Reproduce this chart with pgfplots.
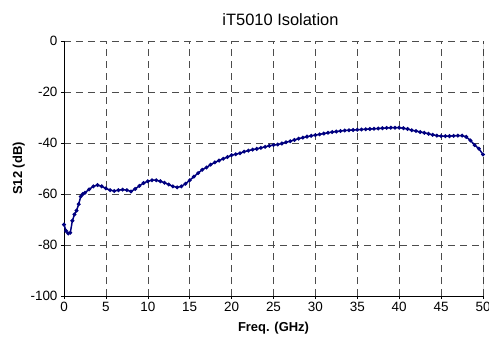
\documentclass[border=0pt]{standalone}
\usepackage{pgfplots}
\pgfplotsset{compat=1.18}
\usepackage{fontspec}
\setmainfont{Liberation Sans}
\definecolor{navy}{RGB}{0,0,128}
\begin{document}
\begin{tikzpicture}
\begin{axis}[
  scale only axis,
  width=419bp, height=255bp,
  xmin=0, xmax=50, ymin=-100, ymax=0,
  xtick={0,5,...,50}, ytick={-100,-80,...,0},
  axis x line*=bottom, axis y line*=left,
  axis line style={black, line width=0.8pt, -},
  tick align=outside, major tick length=3bp,
  tick style={black, line width=0.6pt},
  grid=major,
  major grid style={black!70, dash pattern=on 7bp off 5bp, line width=0.6pt},
  /pgf/number format/assume math mode=true,
  ticklabel style={font=\fontsize{13.5}{16}\selectfont},
  xlabel={\bfseries Freq. (GHz)},
  ylabel={\bfseries S12 (dB)},
  label style={font=\fontsize{13}{15}\selectfont\bfseries},
  xlabel style={yshift=-3bp},
  ylabel style={yshift=-1bp},
  title={iT5010 Isolation},
  title style={font=\fontsize{16.5}{19}\selectfont, xshift=7bp, yshift=6bp},
]
\addplot[navy, line width=1.5pt, mark=*, mark size=1.1bp] coordinates {
(0,-72) (0.25,-74.5) (0.5,-75.5) (0.75,-75.2) (1.0,-70.5) (1.25,-68) (1.5,-66.5) (1.75,-64)
(2.0,-61) (2.25,-60) (2.5,-59.5) (3.0,-58.2) (3.5,-57) (4.0,-56.5) (4.5,-57) (5.0,-57.8)
(5.5,-58.5) (6.0,-58.8) (6.5,-58.5) (7.0,-58.3) (7.5,-58.5) (8.0,-59) (8.5,-58) (9.0,-56.8)
(9.5,-55.7) (10.0,-55) (10.5,-54.6) (11.0,-54.6) (11.5,-55) (12.0,-55.6) (12.5,-56.3)
(13.0,-57) (13.5,-57.4) (14.0,-57) (14.5,-56) (15.0,-54.6) (15.5,-53.2) (16.0,-51.8)
(16.5,-50.5) (17.0,-49.6) (17.5,-48.5) (18.0,-47.6) (18.5,-46.9) (19.0,-46.2) (19.5,-45.5)
(20.0,-44.8) (20.5,-44.4) (21.0,-44) (21.5,-43.4) (22.0,-43) (22.5,-42.6) (23.0,-42.3)
(23.5,-41.9) (24.0,-41.5) (24.5,-41.1) (25.0,-40.8) (25.5,-40.6) (26.0,-40.2) (26.5,-39.7)
(27.0,-39.3) (27.5,-38.8) (28.0,-38.3) (28.5,-37.9) (29.0,-37.5) (29.5,-37.2) (30.0,-36.9)
(30.5,-36.6) (31.0,-36.3) (31.5,-36) (32.0,-35.7) (32.5,-35.5) (33.0,-35.3) (33.5,-35.1)
(34.0,-35) (34.5,-34.9) (35.0,-34.8) (35.5,-34.7) (36.0,-34.6) (36.5,-34.5) (37.0,-34.4)
(37.5,-34.3) (38.0,-34.2) (38.5,-34.1) (39.0,-34) (39.5,-34) (40.0,-34) (40.5,-34.2)
(41.0,-34.5) (41.5,-35) (42.0,-35.3) (42.5,-35.7) (43.0,-36) (43.5,-36.4) (44.0,-36.8)
(44.5,-37.1) (45.0,-37.3) (45.5,-37.3) (46.0,-37.3) (46.5,-37.2) (47.0,-37.1) (47.5,-37.1)
(48.0,-37.6) (48.5,-39) (49.0,-40.8) (49.5,-42.2) (50.0,-44.5)
};
\draw[black, line width=0.8pt] (axis cs:50,-100) -- (axis cs:50,0);
\end{axis}
\pgfresetboundingbox
\path[use as bounding box] (current axis.south west) ++(-64bp,-50bp) rectangle ([shift={(6bp,41bp)}]current axis.north east);
\end{tikzpicture}
\end{document}
